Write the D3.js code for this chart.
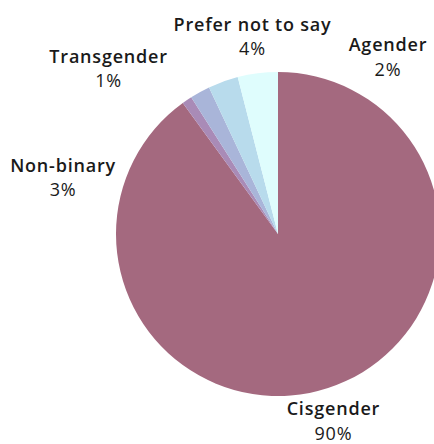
<!DOCTYPE html>
<html>
<head>
<meta charset="utf-8">
<script src="https://cdn.jsdelivr.net/npm/d3@7/dist/d3.min.js"></script>
<style>
  html, body { margin: 0; padding: 0; background: #ffffff; }
  svg { display: block; }
  text { font-family: "Open Sans", "Noto Sans", sans-serif; fill: #1a1a1a; letter-spacing: 0.8px; }
</style>
</head>
<body>
<svg id="chart" width="434" height="444"></svg>
<script>
// Gender identity breakdown (percent of respondents), clockwise from 12 o'clock
const categories = ["Cisgender", "Transgender", "Agender", "Non-binary", "Prefer not to say"];
const values = [90, 1, 2, 3, 4];
const colors = ["#a4697f", "#a98bb7", "#a9b5d9", "#b8dbec", "#dffdfd"];
// Where each label sits, as an angle (degrees, clockwise from top) and distance from the centre
const labelAngles = [164, 313.2, 32.75, 283.1, 352.4];
const labelRadii = [201, 232.4, 203.3, 220.7, 192.7];

const width = 434, height = 444;
const cx = 278, cy = 234, radius = 162;

const svg = d3.select("#chart");
const g = svg.append("g").attr("transform", `translate(${cx},${cy})`);

const data = categories.map((c, i) => ({ name: c, value: values[i], color: colors[i],
  la: labelAngles[i], lr: labelRadii[i] }));

const pie = d3.pie().value(d => d.value).sort(null);
const arc = d3.arc().innerRadius(0).outerRadius(radius);
const arcs = pie(data);

g.selectAll("path.slice")
  .data(arcs)
  .join("path")
  .attr("class", "slice")
  .attr("d", arc)
  .attr("fill", d => d.data.color);

const labels = g.selectAll("g.label")
  .data(arcs)
  .join("g")
  .attr("class", "label")
  .attr("transform", d => {
    const a = d.data.la * Math.PI / 180;
    return `translate(${Math.sin(a) * d.data.lr},${-Math.cos(a) * d.data.lr})`;
  });

labels.append("text")
  .attr("text-anchor", "middle")
  .attr("y", -12)
  .attr("font-size", 18)
  .attr("font-weight", 600)
  .text(d => d.data.name);

labels.append("text")
  .attr("text-anchor", "middle")
  .attr("y", 12.5)
  .attr("font-size", 18)
  .attr("font-weight", 500)
  .text(d => d3.format("d")(d.data.value) + "%");
</script>
</body>
</html>
